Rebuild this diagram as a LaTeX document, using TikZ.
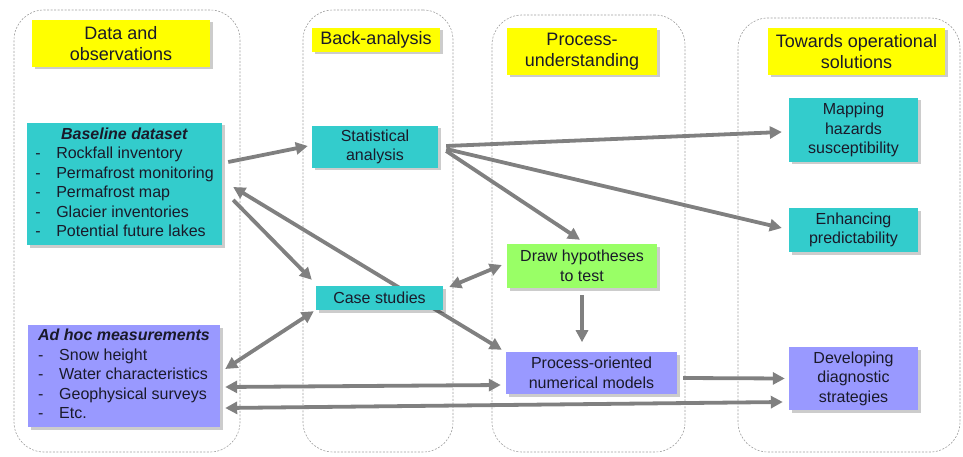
\documentclass[tikz,border=0pt]{standalone}
\usepackage{fontspec}
\setmainfont{Liberation Sans}
\usetikzlibrary{arrows.meta,shadows,calc}
\definecolor{tealc}{HTML}{33CCCC}
\definecolor{bluec}{HTML}{9999FF}
\definecolor{yelc}{HTML}{FFFF00}
\definecolor{greenc}{HTML}{99FF66}
\definecolor{arrc}{HTML}{808080}
\definecolor{txtc}{HTML}{1A1A2A}
\definecolor{colc}{HTML}{A0A0A0}
\pgfdeclarelayer{bg}\pgfsetlayers{bg,main}
\begin{document}
\begin{tikzpicture}[x=1pt,y=-1pt,
  sz/.style 2 args={minimum width=#1pt, minimum height=#2pt},
  box/.style={inner sep=0pt, text=txtc, align=center,
    drop shadow={shadow xshift=2.5pt,shadow yshift=-2.5pt,fill=black,opacity=0.2},
    font=\fontsize{16}{19.5}\selectfont},
  titlebox/.style={box, fill=yelc, font=\fontsize{18}{21.6}\selectfont},
  tealbox/.style={box, fill=tealc},
  bluebox/.style={box, fill=bluec},
  greenbox/.style={box, fill=greenc},
  colbox/.style={draw=colc, line width=0.6pt, dash pattern=on 2pt off 1.5pt,
    rounded corners=30pt, inner sep=0pt},
  arr/.style={draw=arrc, line width=3.8pt, -{Triangle[length=12pt,width=12pt]}},
  darr/.style={draw=arrc, line width=3.8pt, {Triangle[length=12pt,width=12pt]}-{Triangle[length=12pt,width=12pt]}}
]
\useasboundingbox (0,0) rectangle (963,457);

% titles
\node[titlebox, sz={178}{47}] (t1) at (121,43.5) {Data and\\observations};
\node[titlebox, sz={128}{24}] (t2) at (376,40) {Back-analysis};
\node[titlebox, sz={150}{47}] (t3) at (582,51.5) {Process-\\understanding};
\node[titlebox, sz={177}{47}] (t4) at (856.5,51.5) {Towards operational\\solutions};

% content boxes
\node[tealbox, sz={195}{122}] (base) at (124.5,184) {\begin{tabular}{@{}p{21pt}@{}l@{}}
\multicolumn{2}{c}{\textbf{\textit{Baseline dataset}}}\\
-&Rockfall inventory\\
-&Permafrost monitoring\\
-&Permafrost map\\
-&Glacier inventories\\
-&Potential future lakes
\end{tabular}};
\node[bluebox, sz={192}{102}] (adhoc) at (124,376) {\begin{tabular}{@{}p{21pt}@{}l@{}}
\multicolumn{2}{@{}l@{}}{\textbf{\textit{Ad hoc measurements}}}\\
-&Snow height\\
-&Water characteristics\\
-&Geophysical surveys\\
-&Etc.
\end{tabular}};
\node[tealbox, sz={126}{42}] (stat) at (375,147) {Statistical\\analysis};
\node[tealbox, sz={127}{24}] (case) at (379.5,298) {Case studies};
\node[greenbox, sz={150}{44}] (hyp) at (582,266) {Draw hypotheses\\to test};
\node[bluebox, sz={171}{42}] (proc) at (591.5,373) {Process-oriented\\numerical models};
\node[tealbox, sz={129}{64}] (map) at (853.5,130) {Mapping\\hazards\\susceptibility};
\node[tealbox, sz={129}{44}] (enh) at (853.5,230) {Enhancing\\predictability};
\node[bluebox, sz={129}{63}] (dev) at (853.5,378.5) {Developing\\diagnostic\\strategies};

\begin{pgfonlayer}{bg}
\node[colbox, sz={226}{442}] (col1) at (127,231) {};
\node[colbox, sz={150}{442}] (col2) at (378,231) {};
\node[colbox, sz={193}{437}] (col3) at (588.5,233.5) {};
\node[colbox, sz={222}{434}] (col4) at (849,235) {};

\draw[arr] ($(base.east)+(6,-22)$) -- ($(stat.west)+(-4,-1)$);
\draw[darr] ($(base.east)+(11,3)$) -- ($(proc.north west)+(-4,-2)$);
\draw[arr] ($(base.east)+(11,16)$) -- ($(case.north west)+(-4,-6)$);
\draw[darr] ($(adhoc.east)+(5,-7)$) -- ($(case.south west)+(-2,1)$);
\draw[darr] ($(adhoc.east)+(5,11)$) -- ($(proc.west)+(-5,12)$);
\draw[darr] ($(adhoc.east)+(5,32)$) -- ($(dev.west)+(-6,23.5)$);
\draw[arr] ($(stat.east)+(8,-1)$) -- ($(map.west)+(-7,2)$);
\draw[arr] ($(stat.east)+(8,2)$) -- ($(enh.west)+(-7,-2)$);
\draw[arr] ($(stat.east)+(8,4)$) -- ($(hyp.north)+(-2,-4)$);
\draw[darr] ($(case.east)+(6,-11)$) -- ($(hyp.west)+(-5,-1)$);
\draw[arr] ($(hyp.south)+(0,7)$) -- ($(hyp.south)+(0,54)$);
\draw[arr] ($(proc.east)+(6,5)$) -- ($(dev.west)+(-4,0)$);
\end{pgfonlayer}
\end{tikzpicture}
\end{document}
